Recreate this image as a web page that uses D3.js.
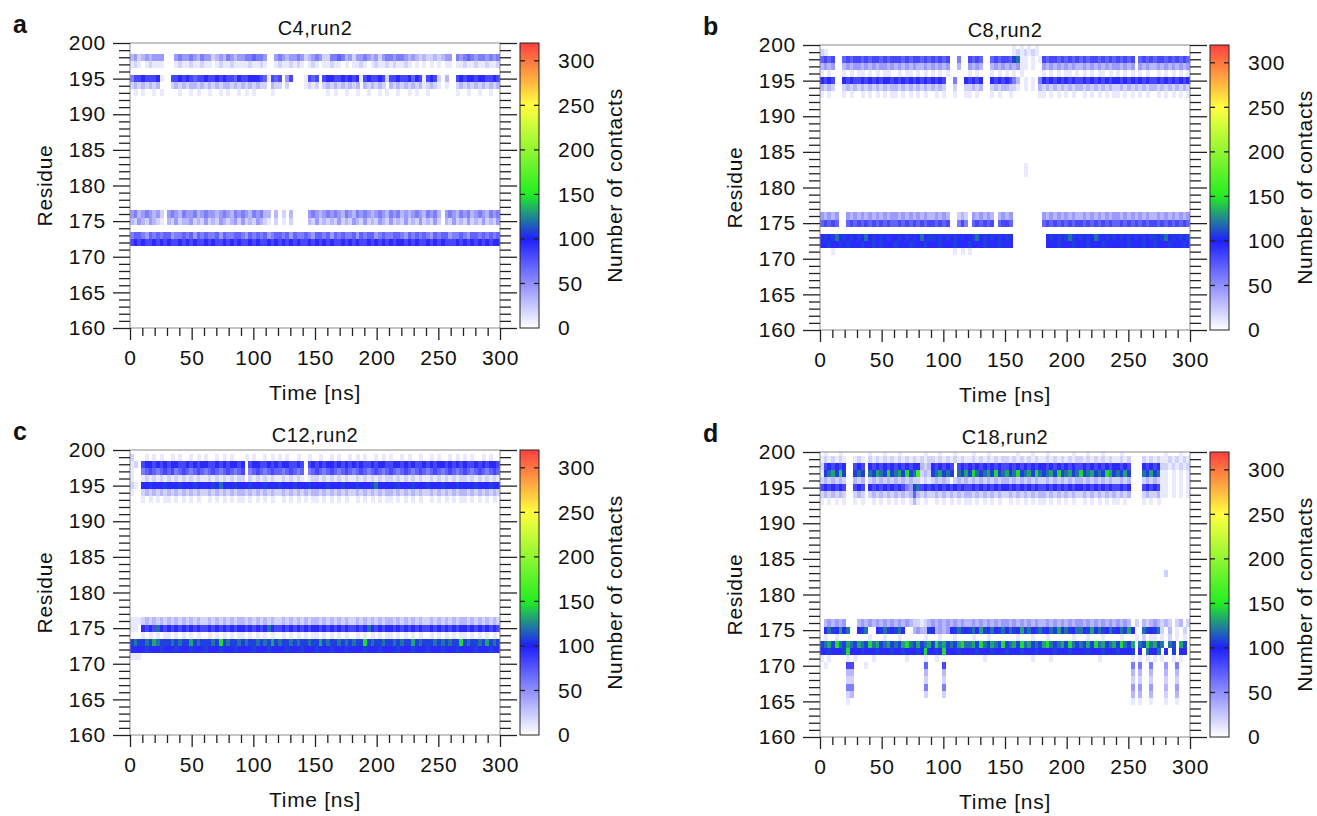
<!DOCTYPE html>
<html><head><meta charset="utf-8">
<script src="https://cdn.jsdelivr.net/npm/d3@7"></script>
<style>
body{margin:0;background:#fff}
svg text{font-family:"Liberation Sans",Arial,Helvetica,sans-serif;fill:#111}
</style>
</head><body>
<svg id="chart" width="1317" height="816"></svg>
<script>
// ---------------- data ----------------
const timeDomain = [0, 300];
const residueDomain = [160, 200];
const xTickValues = [0, 50, 100, 150, 200, 250, 300];
const yTickValues = [160, 165, 170, 175, 180, 185, 190, 195, 200];
const colorTickValues = [0, 50, 100, 150, 200, 250, 300];
const colorDomainMax = 320;
const colorStops = [0, 100, 150, 250, 320];
const colorStopColors = ['#ffffff', '#1f1fff', '#22ee22', '#ffff40', '#ff4040'];
// contact count for each intensity code (hex digit) used in the row strings
const levelCounts = [0, 10, 20, 32, 45, 58, 70, 82, 95, 108, 120, 132, 145, 160, 180];
const panelLetters = ['a', 'b', 'c', 'd'];
const panelTitles = ['C4,run2', 'C8,run2', 'C12,run2', 'C18,run2'];
// each row: [residue, intensity codes along time (each group of 10 = 30 ns)]
const rowsC4 = [
 [198,"3423434440 0045445435 4423435434 4556554004 5434454234 5422556534 2445434245 5455434323 2232344054 5654554545"],
 [197,"1210121110 0012112112 1101211211 1121121001 2112121012 1011211010 1121012112 1211210101 0101011011 2112112112"],
 [195,"5778777810 0778787677 8778787768 7788876176 7047000176 7078877878 7817877872 7787786871 7872030078 7887887787"],
 [194,"2323232300 0232323323 2323233232 3232322032 2020000121 2023232323 2303232320 3232323231 2321010023 2323232323"],
 [193,"0101001010 0001001010 0100101001 0101000010 0000000000 0001010010 0100100101 0010010100 1000000010 0100100100"],
 [176,"4534543420 4543544534 5443454354 5435453303 0203000045 4345454354 3545434543 5453434543 5453045435 4534543545"],
 [175,"3243243210 3242334232 4232432342 4232432102 0102000032 4232324232 4324232432 4232423242 3242032423 2423242324"],
 [173,"5665465656 6455656465 6556465566 5465656456 6564655654 6656465655 6465664565 5665465656 5465664556 5466565656"],
 [172,"7878778787 8778787877 8787787878 7787877878 7878787787 8787877878 7877878787 8788787877 8787877787 8787878788"]
];
const rowsC8 = [
 [200,"0000000000 0000000000 0000000000 0000000000 0000000000 0010101010 0000000000 0000000000 0000000000 0000000000"],
 [199,"2100000000 0000000000 0000000000 0000000000 0000000000 0012121210 0000000000 0000000000 0000000000 0000000000"],
 [198,"6767006767 7676776767 7767677676 7676700500 7676006767 769a110101 7677676767 6767767676 7676706767 6776767676"],
 [197,"3434003434 4343434434 3434343343 4343400300 4343003434 3434110100 4343434343 3434343434 4343404343 3434343434"],
 [196,"1010001010 1101010110 0101101010 1010100000 1010001010 1010100000 1010101101 0101011010 1010101010 0101010101"],
 [195,"8787008787 7878787887 8787878787 8787005008 7878008787 8753010105 8787878787 7878787878 8787878787 7878787878"],
 [194,"3232002323 2323232323 3232323232 3232002002 2323002323 3221010103 2323232323 3232323232 2323232323 3232323232"],
 [193,"1010001010 0101010101 1010101010 0101001001 1010001010 0100000001 1010101010 0101010101 1010101010 0101010101"],
 [183,"0000000000 0000000000 0000000000 0000000000 0000000000 0000010000 0000000000 0000000000 0000000000 0000000000"],
 [182,"0000000000 0000000000 0000000000 0000000000 0000000000 0000010000 0000000000 0000000000 0000000000 0000000000"],
 [176,"4343400434 3434343434 4343434343 3434300232 0434343034 3400000000 4343434343 3434343434 4343434343 3434343434"],
 [175,"6767600676 7676767676 6767676767 7676700575 0676767067 7600000000 6767676767 7676767676 6767676767 7676767676"],
 [173,"8989a89898 98a8989898 8989898a89 9898989898 89a8989898 9800000000 0898989a98 9898a98989 8989898989 989a898989"],
 [172,"8898898988 8988989888 9888988898 8898889888 9888988898 8800000000 0888988898 8898889888 8889888988 9888988898"],
 [171,"0001000000 0000000000 0000000000 0000001010 1000000000 0000000000 0000000000 0000000000 0000000000 0000000000"]
];
const rowsC12 = [
 [199,"2000101010 0101001010 1001010100 0101001010 1010010010 0100101001 0101001010 1001010010 0101001010 1010010100"],
 [198,"1207887878 7887787878 8778787887 8078877878 7887787078 7878878787 8787787887 7887878778 7878878787 8778787887"],
 [197,"1005676567 6756765676 5676567656 7056765676 6567656056 7656765676 5676567656 7656765676 5676567656 7656765676"],
 [196,"1001212121 2121212121 1212121212 2021212121 1212121012 2121212121 1212121212 2121212121 1212121212 2121212121"],
 [195,"2108898889 8889888988 8898a88898 8898889888 9888988898 8889888988 898889a888 8898889888 9888988898 8889888988"],
 [194,"1002323232 3232323232 2323232323 3232323232 2323232323 3232323232 2323232323 3232323232 2323232323 3232323232"],
 [193,"0001010101 1010101010 0101010101 1010101010 0101010101 1010101010 0101010101 1010101010 0101010101 1010101010"],
 [176,"1112323232 3232323232 2323232323 3232323232 2323232323 3232323232 2323232323 3232323232 2323232323 3232323232"],
 [175,"1108787a87 8787878787 7878787878 8787878a87 7878787878 8787878787 7878a87878 8787878787 7878787878 8787878787"],
 [174,"0001010101 1010101010 0101010101 1010101010 0101010101 1010101010 0101010101 1010101010 0101010101 1010101010"],
 [173,"9a99a9ba99 9a9a99b9a9 99a9c9a99a 9a99a9a9b9 a99a9a99a9 9b9a99a9a9 a99c9a99a9 9a9a99b9a9 99a9a9a99c 9a99a9b9a9"],
 [172,"8888988898 8898889888 9888988898 8889888988 8898889888 9888988898 8889888988 8898889888 9888988898 8889888988"],
 [171,"1110000000 0000000000 0000000000 0000000000 0000000000 0000000000 0000000000 0000000000 0000000000 0000000000"]
];
const rowsC18 = [
 [200,"0100010000 0001000100 0100000010 0010001000 0100010000 0001000100 0100000010 0010001000 0100000000 0001000100"],
 [199,"1212121001 2102121212 1212121212 2121212121 1212121212 2121212121 1212121212 2121212121 1212000212 1211212121"],
 [198,"2787878007 8708787878 7878788323 8787870787 8787878787 7878787878 8787878787 7878787878 8787000878 7822121212"],
 [197,"19ab9c9009 a90a9ba9c9 ab9c9ad232 9ab9a90a9b 9ca9ab9c9a b9ac9ab9ca 9ab9c9ab9a c9ab9a9cb9 a9b9000a9b 9a11010101"],
 [196,"2323232003 2302323232 3232322121 2323202323 2323232323 3232323232 2323232323 3232323232 2323000232 3211010101"],
 [195,"7878787007 8708787878 787549a787 8787878787 7878787878 8787878787 7878787878 8787878787 7878000787 8711010101"],
 [194,"2323232002 3202323232 3232363232 2323232323 3232323232 2323232323 3232323232 2323232323 2323000232 2311010101"],
 [193,"1010101001 0100101010 1010131010 0101010101 1010101010 0101010101 1010101010 0101010101 1010000101 0100000000"],
 [183,"0000000000 0000000000 0000000000 0000000000 0000000000 0000000000 0000000000 0000000000 0000000000 0002000000"],
 [176,"0343434000 3434343434 3434322123 4343434343 3434343434 4343434343 3434343434 4343434343 4343020323 4323202302"],
 [175,"08a98b8a00 89a0089a98 9a80034339 8343489a98 9a8b98a89a 8a98b9a89a 98a9b8a98a a89b8a98a9 8a9b800a98 9a20301020"],
 [174,"0100100000 0001000100 0100000010 0010001000 0100010000 0001000100 0100000010 0010001000 0100010201 1010201010"],
 [173,"9ab9ca9ba9 ba9cab9ab9 a9bca9b9ab 9cab9a9bca ab9ca9ba9c 9ab9cab9a9 bca9ab9ca9 a9b9cab9ab 9ca9b0a9ca b9a0a90b90"],
 [172,"8898889c88 8988898889 88988898c8 898c888988 8898889888 9888988898 8889888988 8898889888 98889080a8 8a08090880"],
 [171,"1010000101 0000100000 0001000010 0100000000 0000100000 0000000100 0010000000 0000010000 0000101010 1010010100"],
 [170,"0100000770 0010000000 0000000060 0007000000 0000000000 0000000000 0000000000 0000000000 0000505005 0004005000"],
 [169,"0000000330 0000000000 0000000030 0003000000 0000000000 0000000000 0000000000 0000000000 0000303003 0003003000"],
 [168,"0000000220 0000000000 0000000020 0002000000 0000000000 0000000000 0000000000 0000000000 0000202002 0002002000"],
 [167,"0000000550 0000000000 0000000050 0005000000 0000000000 0000000000 0000000000 0000000000 0000404004 0003004000"],
 [166,"0000000230 0000000000 0000000020 0002000000 0000000000 0000000000 0000000000 0000000000 0000303003 0002003000"],
 [165,"0000000100 0000000000 0000000000 0000000000 0000000000 0000000000 0000000000 0000000000 0000101001 0001001000"]
];
const panelRows = [rowsC4, rowsC8, rowsC12, rowsC18];

// ---------------- layout ----------------
const panelOrigins = [[130, 43], [820, 45], [130, 450], [820, 452]];
const W = 370, H = 285;
const svg = d3.select('#chart');
const FONT = 21;
const LS = '0.7px';

const x = d3.scaleLinear().domain(timeDomain).range([0, W]);
const y = d3.scaleLinear().domain(residueDomain).range([H, 0]);
const color = d3.scaleLinear().domain(colorStops).range(colorStopColors)
  .interpolate(d3.interpolateRgb).clamp(true);
const cScale = d3.scaleLinear().domain([0, colorDomainMax]).range([H, 0]);

const defs = svg.append('defs');
const grad = defs.append('linearGradient').attr('id', 'cbgrad')
  .attr('x1', 0).attr('y1', 1).attr('x2', 0).attr('y2', 0);
d3.range(0, 33).forEach(i => {
  const v = i * colorDomainMax / 32;
  grad.append('stop').attr('offset', v / colorDomainMax).attr('stop-color', color(v));
});

panelRows.forEach((rows, pi) => {
  const [ox, oy] = panelOrigins[pi];
  const g = svg.append('g').attr('transform', `translate(${ox},${oy})`);
  const clipId = 'clip' + pi;
  defs.append('clipPath').attr('id', clipId).append('rect').attr('width', W).attr('height', H);

  const cells = [];
  rows.forEach(([res, str]) => {
    const s = str.replace(/\s/g, '');
    const bw = (timeDomain[1] - timeDomain[0]) / s.length;
    for (let i = 0; i < s.length; i++) {
      const lvl = parseInt(s[i], 16);
      if (lvl > 0) cells.push({res, t0: i * bw, t1: (i + 1) * bw, v: levelCounts[lvl]});
    }
  });
  g.append('g').attr('clip-path', `url(#${clipId})`).selectAll('rect').data(cells).join('rect')
    .attr('x', d => x(d.t0))
    .attr('width', d => x(d.t1) - x(d.t0) + 0.3)
    .attr('y', d => y(d.res + 0.5))
    .attr('height', d => y(d.res - 0.5) - y(d.res + 0.5))
    .attr('fill', d => color(d.v))
    .attr('shape-rendering', 'crispEdges');

  g.append('rect').attr('width', W).attr('height', H).attr('fill', 'none')
    .attr('stroke', '#8a8a8a').attr('stroke-width', 1);

  const minorY = d3.range(160, 201, 1).filter(v => v % 5 !== 0);
  const minorX = d3.range(0, 301, 10).filter(v => v % 50 !== 0);
  const styleAxis = sel => {
    sel.select('.domain').remove();
    sel.selectAll('.tick line').attr('stroke', '#222').attr('stroke-width', 1.3);
    sel.selectAll('.tick text').attr('font-size', FONT).attr('fill', '#111')
      .style('font-family', '"Liberation Sans",Arial,sans-serif').attr('letter-spacing', LS);
  };
  g.append('g').call(d3.axisLeft(y).tickValues(yTickValues).tickSize(17).tickPadding(7).tickFormat(d3.format('d'))).call(styleAxis);
  g.append('g').call(d3.axisLeft(y).tickValues(minorY).tickSize(11).tickFormat('')).call(styleAxis);
  g.append('g').attr('transform', `translate(${W},0)`).call(d3.axisRight(y).tickValues(yTickValues).tickSize(17).tickFormat('')).call(styleAxis);
  g.append('g').attr('transform', `translate(${W},0)`).call(d3.axisRight(y).tickValues(minorY).tickSize(11).tickFormat('')).call(styleAxis);
  g.append('g').attr('transform', `translate(0,${H})`).call(d3.axisBottom(x).tickValues(xTickValues).tickSize(12).tickPadding(10).tickFormat(d3.format('d'))).call(styleAxis);
  g.append('g').attr('transform', `translate(0,${H})`).call(d3.axisBottom(x).tickValues(minorX).tickSize(8).tickFormat('')).call(styleAxis);

  g.append('text').attr('x', W / 2).attr('y', H + 72).attr('text-anchor', 'middle')
    .attr('font-size', FONT).attr('letter-spacing', LS).text('Time [ns]');
  g.append('text').attr('transform', `translate(-78,${H / 2}) rotate(-90)`).attr('text-anchor', 'middle')
    .attr('font-size', FONT).attr('letter-spacing', LS).text('Residue');
  g.append('text').attr('x', W / 2).attr('y', -8).attr('text-anchor', 'middle')
    .attr('font-size', 20).attr('letter-spacing', '0.5px').text(panelTitles[pi]);
  g.append('text').attr('x', -117).attr('y', -10).attr('font-size', 25).attr('font-weight', 'bold')
    .text(panelLetters[pi]);

  const cbX = W + 20, cbW = 19;
  const cb = g.append('g').attr('transform', `translate(${cbX},0)`);
  cb.append('rect').attr('width', cbW).attr('height', H).attr('fill', 'url(#cbgrad)')
    .attr('stroke', '#222').attr('stroke-width', 1);
  colorTickValues.filter(v => v > 0).forEach(v => {
    cb.append('line').attr('x1', cbW - 5).attr('x2', cbW).attr('y1', cScale(v)).attr('y2', cScale(v))
      .attr('stroke', '#222').attr('stroke-width', 1.3);
    cb.append('line').attr('x1', 0).attr('x2', 5).attr('y1', cScale(v)).attr('y2', cScale(v))
      .attr('stroke', '#222').attr('stroke-width', 1.3);
  });
  cb.selectAll('text.ct').data(colorTickValues).join('text').attr('class', 'ct')
    .attr('x', cbW + 19).attr('y', d => cScale(d)).attr('dy', '0.35em')
    .attr('font-size', FONT).attr('letter-spacing', LS).text(d => d);
  cb.append('text').attr('transform', `translate(${cbW + 83},${H / 2}) rotate(-90)`)
    .attr('text-anchor', 'middle').attr('font-size', FONT).attr('letter-spacing', LS).text('Number of contacts');
});
</script>
</body></html>
